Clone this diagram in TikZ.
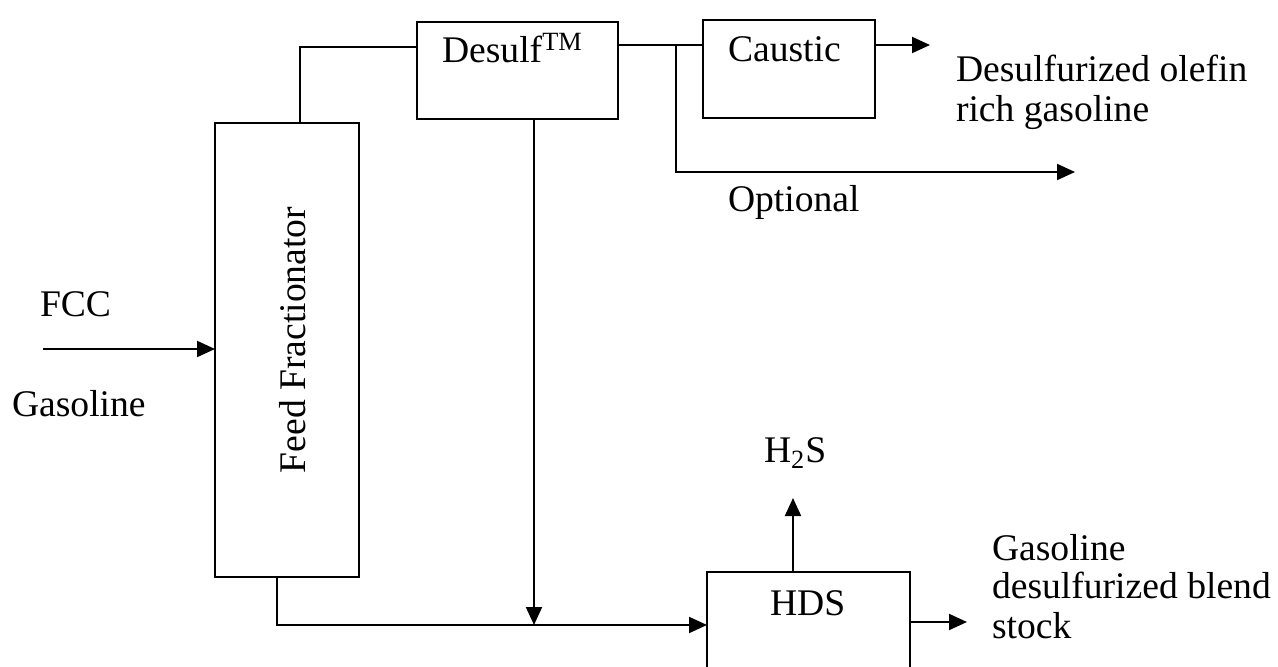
\documentclass[tikz,border=0pt]{standalone}
\usepackage{fontspec}
\setmainfont{Liberation Serif}
\usetikzlibrary{arrows.meta}
\begin{document}
\begin{tikzpicture}[x=0.5pt,y=-0.5pt,
  box/.style={draw,line width=0.9pt,inner sep=0pt,outer sep=0pt},
  lbl/.style={inner sep=0pt,outer sep=0pt,anchor=base west,font=\fontsize{18.8}{20}\selectfont},
  conn/.style={line width=1pt},
  arr/.style={line width=1pt,-{Triangle[length=9pt,width=8pt]}}]
\clip (0,0) rectangle (1278,667);
% boxes
\node[box,minimum width=72pt,minimum height=227pt] (ff) at (287,350) {};
\node[lbl,anchor=center,rotate=90] (fftxt) at (293,340) {Feed Fractionator};
\node[box,minimum width=100.5pt,minimum height=48.5pt] (desulf) at (517.5,70.5) {};
\node[lbl] (desulftxt) at (442,63) {Desulf\textsuperscript{TM}};
\node[box,minimum width=86pt,minimum height=49pt] (caustic) at (789,69) {};
\node[lbl] (caustictxt) at (728,62) {Caustic};
\node[box,minimum width=101.5pt,minimum height=64pt] (hds) at (808.5,636) {};
\node[lbl] (hdstxt) at (770,615) {HDS};
% labels
\node[lbl] (fcc) at (40,317) {FCC};
\node[lbl] (gasin) at (12,417) {Gasoline};
\node[lbl] (p1a) at (956,82) {Desulfurized olefin};
\node[lbl] (p1b) at (956,122) {rich gasoline};
\node[lbl] (opt) at (728,212) {Optional};
\node[lbl] (h2s) at (764,463) {H\textsubscript{2}S};
\node[lbl] (p2a) at (992,560) {Gasoline};
\node[lbl] (p2b) at (992,598) {desulfurized blend};
\node[lbl] (p2c) at (992,638) {stock};
% coordinates
\coordinate (fccstart) at (43,349);
\coordinate (j1) at (300,47);
\coordinate (j2) at (676,45);
\coordinate (ct) at (930,45);
\coordinate (ot) at (1075,172);
\coordinate (jb) at (534,625);
\coordinate (fb) at (277,625);
\coordinate (ht) at (793,498);
\coordinate (hout) at (967,622);
% connectors
\draw[arr] (fccstart) -- (fccstart -| ff.west);
\draw[conn] (j1 |- ff.north) -- (j1) -- (j1 -| desulf.west);
\draw[conn] (desulf.east |- j2) -- (j2 -| caustic.west);
\draw[arr] (ct -| caustic.east) -- (ct);
\draw[arr] (j2) |- (ot);
\draw[arr] (jb |- desulf.south) -- (jb);
\draw[arr] (fb |- ff.south) -- (fb) -- (fb -| hds.west);
\draw[arr] (ht |- hds.north) -- (ht);
\draw[arr] (hout -| hds.east) -- (hout);
\end{tikzpicture}
\end{document}
